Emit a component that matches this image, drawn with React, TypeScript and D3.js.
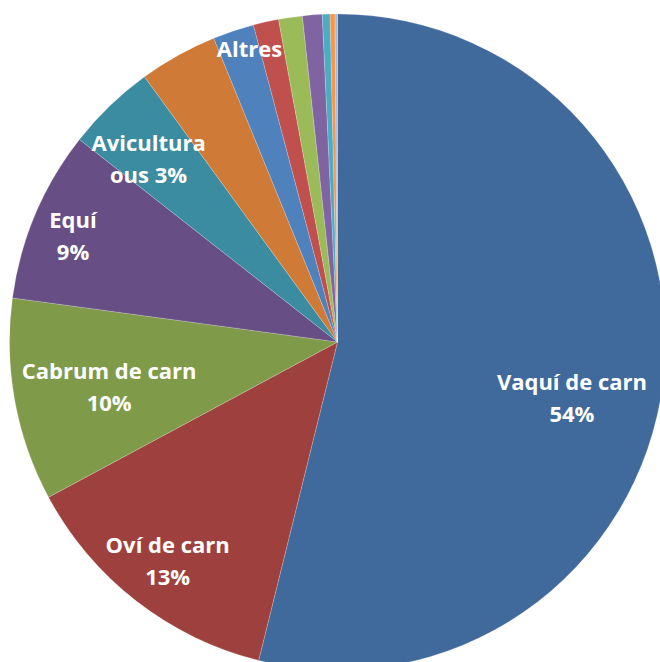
import React from "react";
import * as d3 from "d3";

// slice values (% share), clockwise from 12 o'clock
const categories = [
  "Vaquí de carn",
  "Oví de carn",
  "Cabrum de carn",
  "Equí",
  "Avicultura ous",
  "Avicultura carn",
  "Altres",
  "Porcí",
  "Conills",
  "Apicultura",
  "Cabrum de llet",
  "Oví de llet",
  "Vaquí de llet",
];
const values = [53.9, 13.3, 10.0, 8.45, 4.4, 3.86, 2.03, 1.25, 1.17, 0.97, 0.38, 0.24, 0.12];
// label text shown in the chart (null = no label)
const labelLines: (string[] | null)[] = [
  ["Vaquí de carn", "54%"],
  ["Oví de carn", "13%"],
  ["Cabrum de carn", "10%"],
  ["Equí", "9%"],
  ["Avicultura", "ous 3%"],
  null,
  ["Altres"],
  null,
  null,
  null,
  null,
  null,
  null,
];

const colors = [
  "#40699c", "#9e413e", "#7f9a48", "#674f86", "#3b8ba1", "#cf7a36",
  "#4f81bd", "#c0504d", "#9bbb59", "#8064a2", "#4bacc6", "#f79646", "#a8b9d4",
];
// nudges of each label from the slice centroid
const labelNudge = [
  [0, 26], [-25, 31], [4, 2], [-47, -15], [-25, -14], [0, 0], [-13, -70],
  [0, 0], [0, 0], [0, 0], [0, 0], [0, 0], [0, 0],
];

const W = 660;
const H = 662;
const cx = 337.5;
const cy = 342;
const R = 328;

export default function App() {
  const pie = d3.pie<number>().sort(null).value((d) => d);
  const arcs = pie(values);
  const arc = d3.arc<d3.PieArcDatum<number>>().innerRadius(0).outerRadius(R);
  const labelArc = d3.arc<d3.PieArcDatum<number>>().innerRadius(R * 0.72).outerRadius(R * 0.72);
  const lineH = 32;

  return (
    <>
      <style>{`body{margin:0}`}</style>
      <svg width={W} height={H} style={{ display: "block" }}>
        <g transform={`translate(${cx},${cy})`}>
          {arcs.map((a, i) => (
            <path key={categories[i]} d={arc(a) || ""} fill={colors[i]} stroke="#fff" strokeWidth={0.2} />
          ))}
          {arcs.map((a, i) => {
            const lines = labelLines[i];
            if (!lines) return null;
            const [x, y] = labelArc.centroid(a);
            const lx = x + labelNudge[i][0];
            const ly = y + labelNudge[i][1] - ((lines.length - 1) * lineH) / 2;
            return (
              <text
                key={"l" + i}
                x={lx}
                y={ly}
                textAnchor="middle"
                dominantBaseline="central"
                fill="#fff"
                fontFamily="'Open Sans', sans-serif"
                fontWeight="bold"
                fontSize={22}
              >
                {lines.map((t, j) => (
                  <tspan key={j} x={lx} y={ly + j * lineH}>
                    {t}
                  </tspan>
                ))}
              </text>
            );
          })}
        </g>
      </svg>
    </>
  );
}
